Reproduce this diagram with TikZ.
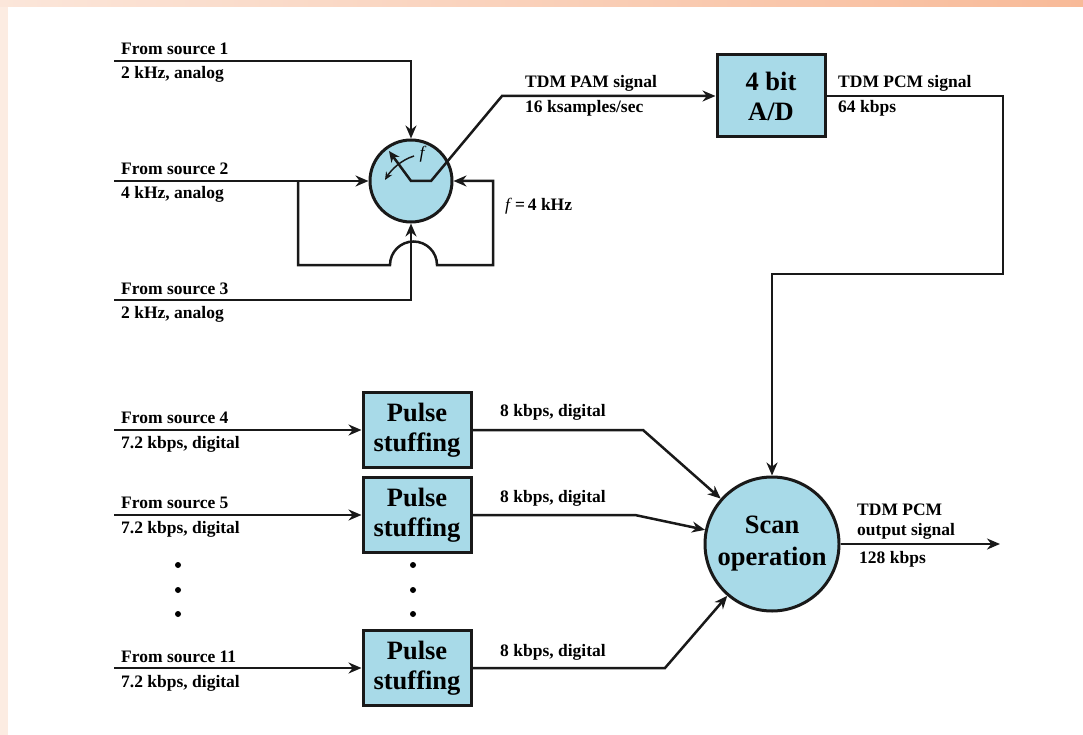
\documentclass[tikz,border=0pt]{standalone}
\usepackage{fontspec}
\setmainfont{Liberation Serif}
\usetikzlibrary{arrows.meta,calc}
\definecolor{boxblue}{RGB}{168,218,232}
\definecolor{peachA}{RGB}{251,230,218}
\definecolor{peachB}{RGB}{248,186,152}
\definecolor{peachL}{RGB}{252,236,226}
\definecolor{ink}{RGB}{25,25,25}
\begin{document}
\begin{tikzpicture}[x=1pt,y=-1pt,
  wire/.style={draw=ink, line width=2.5pt, line join=miter},
  arr/.style={wire,-{Stealth[length=13pt,width=11pt]}},
  lbl/.style={anchor=base west, inner sep=0pt, font=\fontsize{17.5}{20}\selectfont\bfseries},
  blk/.style={draw=ink, line width=3pt, fill=boxblue, minimum width=108pt, minimum height=75pt,
    inner sep=0pt, align=center, font=\fontsize{26.5}{30}\selectfont\bfseries},
  rnd/.style={circle, draw=ink, line width=3pt, fill=boxblue, inner sep=0pt, align=center,
    font=\fontsize{26.5}{32}\selectfont\bfseries},
  dotmark/.style={circle, fill=black, inner sep=0pt, minimum size=6pt}]
% background
\useasboundingbox (0,0) rectangle (1083,735);
\fill[white] (0,0) rectangle (1083,735);
\shade[left color=peachA, right color=peachB] (0,0) rectangle (1083,7);
\fill[peachL] (0,7) rectangle (8,735);

% nodes
\node[rnd, minimum size=82pt] (comm) at (411,181) {};
\node[blk, minimum height=82pt] (ad) at (771,96) {4 bit\\A/D};
\node[rnd, minimum size=134pt] (scan) at (772,544) {Scan\\operation};
\node[blk] (p1) at (417,430) {Pulse\\stuffing};
\node[blk] (p2) at (417,515) {Pulse\\stuffing};
\node[blk] (p3) at (417,668) {Pulse\\stuffing};

% coordinates
\coordinate (s1) at (114,61);
\coordinate (s2) at (114,181);
\coordinate (s3) at (114,300);
\coordinate (br) at (298,181);
\coordinate (fb) at (493,265);
\coordinate (armtip) at (389,151);
\coordinate (k1) at (431,181);
\coordinate (k2) at (502,96);
\coordinate (o2) at (1003,274);
\coordinate (out) at (1000,544);
\coordinate (s4) at (114,430);
\coordinate (s5) at (114,515);
\coordinate (s11) at (114,668);
\coordinate (k4) at (643,430);
\coordinate (k5) at (635,515);
\coordinate (k11) at (665,668);
\coordinate (rot1) at (414,156);
\coordinate (rot2) at (385,180);

% top inputs
\draw[arr] (s1) -| (comm.north);
\draw[arr] (s2) -- (comm.west);
\draw[arr] (s3) -| (comm.south);
\draw[arr] (br) |- (390,265) .. controls (390,252) and (400.5,241.5) .. (413.5,241.5)
  .. controls (426.5,241.5) and (437,252) .. (437,265) -- (fb) |- (comm.east);

% commutator arm and output
\draw[wire, {Stealth[length=11pt,width=10pt]}-{Stealth[length=13pt,width=11pt]}]
  (armtip) -- (comm.center) -- (k1) -- (k2) -- (ad.west);
\draw[draw=ink, line width=1.5pt, -{Stealth[length=8pt,width=7pt]}] (rot1) .. controls (401,160) and (391,170) .. (rot2);
\node[inner sep=0pt, font=\fontsize{17.5}{20}\selectfont\itshape] (flab) at (422,154) {f};

% A/D to scan
\draw[arr] (ad.east) -| (o2) -| (scan.north);
\draw[arr] (scan.east) -- (out);

% pulse stuffing
\draw[arr] (s4) -- (p1.west);
\draw[arr] (s5) -- (p2.west);
\draw[arr] (s11) -- (p3.west);
\draw[arr] (p1.east) -- (k4) -- (scan);
\draw[arr] (p2.east) -- (k5) -- (scan);
\draw[arr] (p3.east) -- (k11) -- (scan);

% dots
\node[dotmark] (d1) at (178,565) {};
\node[dotmark] (d2) at (178,590) {};
\node[dotmark] (d3) at (178,614) {};
\node[dotmark] (d4) at (413,565) {};
\node[dotmark] (d5) at (413,590) {};
\node[dotmark] (d6) at (413,614) {};

% labels
\node[lbl] (l1a) at (121,55) {From source 1};
\node[lbl] (l1b) at (121,79) {2 kHz, analog};
\node[lbl] (l2a) at (121,175) {From source 2};
\node[lbl] (l2b) at (121,199) {4 kHz, analog};
\node[lbl] (l3a) at (121,294) {From source 3};
\node[lbl] (l3b) at (121,318) {2 kHz, analog};
\node[lbl] (l4a) at (121,423) {From source 4};
\node[lbl] (l4b) at (121,448) {7.2 kbps, digital};
\node[lbl] (l5a) at (121,508) {From source 5};
\node[lbl] (l5b) at (121,533) {7.2 kbps, digital};
\node[lbl] (l11a) at (121,662) {From source 11};
\node[lbl] (l11b) at (121,687) {7.2 kbps, digital};
\node[lbl] (pama) at (525,88) {TDM PAM signal};
\node[lbl] (pamb) at (525,113) {16 ksamples/sec};
\node[lbl] (pcma) at (838,88) {TDM PCM signal};
\node[lbl] (pcmb) at (838,113) {64 kbps};
\node[lbl] (fv) at (505,211) {\textit{\mdseries f}\,=\,4 kHz};
\node[lbl] (e1) at (500,416) {8 kbps, digital};
\node[lbl] (e2) at (500,502) {8 kbps, digital};
\node[lbl] (e3) at (500,656) {8 kbps, digital};
\node[lbl] (oa) at (857,515) {TDM PCM};
\node[lbl] (ob) at (857,535) {output signal};
\node[lbl] (oc) at (859,563) {128 kbps};
\end{tikzpicture}
\end{document}
